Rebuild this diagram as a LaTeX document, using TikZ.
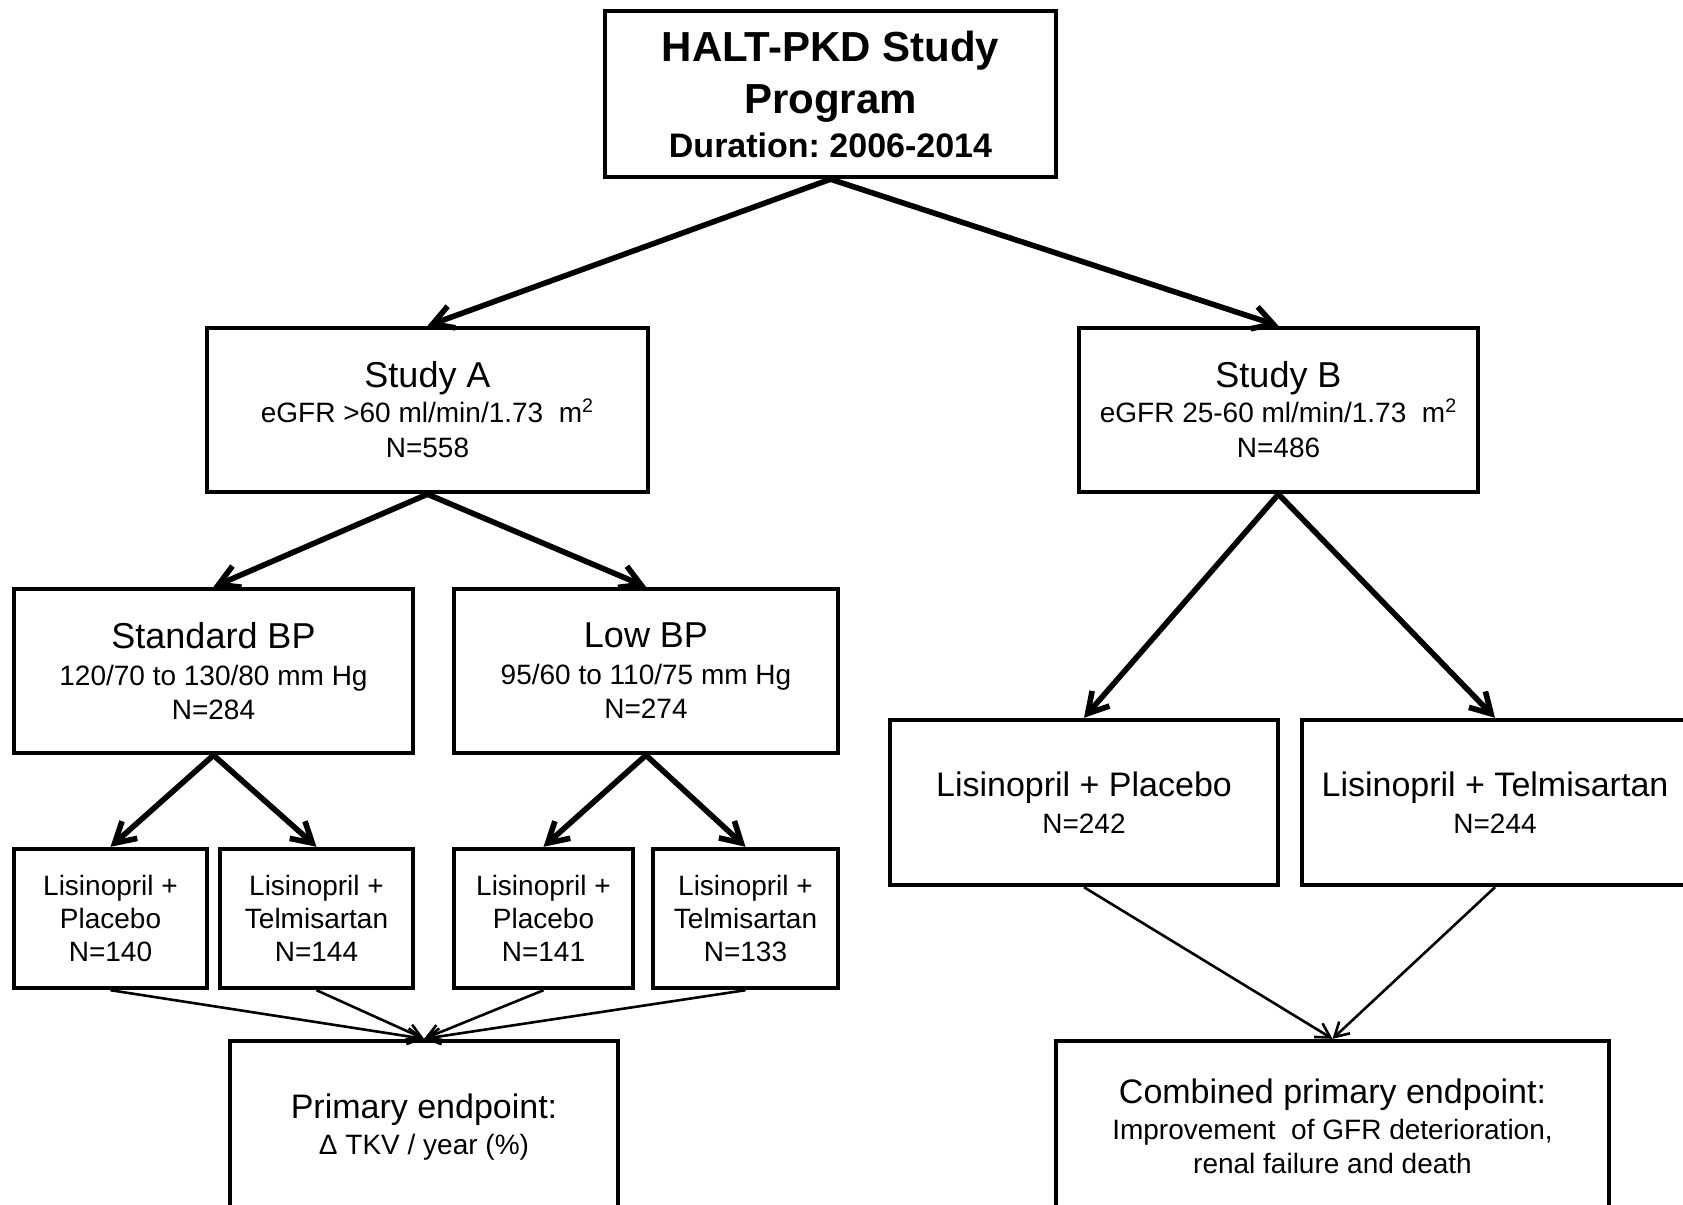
\documentclass[tikz,border=0pt]{standalone}
\usepackage{fontspec}
\setmainfont{Liberation Sans}
\usetikzlibrary{arrows.meta}
\frenchspacing

\begin{document}
\begin{tikzpicture}[x=0.5pt,y=-0.5pt,
    box/.style={draw=black,line width=2.2pt,align=center,inner sep=0pt},
    sz/.style 2 args={minimum width=#1,minimum height=#2},
    bigarrow/.style={line width=2.8pt,-{Straight Barb[length=10pt,width=11.5pt]}},
    smallarrow/.style={line width=1.3pt,-{Straight Barb[length=7pt,width=8pt]}}]
    \useasboundingbox (0,0) rectangle (1683,1205);
    \clip (0,0) rectangle (1683,1205);
    % top level
    \node [box,sz={225.5pt}{83pt},font=\bfseries\fontsize{21}{26}\selectfont] (prog) at (830.5,94)
        {HALT-PKD Study\\Program\\[-4pt]{\fontsize{17}{21}\selectfont Duration: 2006-2014}};
    % the two studies
    \node [box,sz={220.5pt}{82pt},font=\fontsize{14}{17.5}\selectfont] (studyA) at (427.5,410)
        {{\fontsize{18}{18}\selectfont Study A}\\eGFR >60 ml/min/1.73~~m\textsuperscript{2}\\N=558};
    \node [box,sz={199.5pt}{82pt},font=\fontsize{14}{17.5}\selectfont] (studyB) at (1278.5,410)
        {{\fontsize{18}{18}\selectfont Study B}\\eGFR 25-60 ml/min/1.73~~m\textsuperscript{2}\\N=486};
    % study A: blood pressure arms
    \node [box,sz={199.5pt}{82pt},font=\fontsize{14}{17}\selectfont] (stdbp) at (213.5,671)
        {{\fontsize{18}{18}\selectfont Standard BP}\\[1.5pt]120/70 to 130/80 mm Hg\\N=284};
    \node [box,sz={192pt}{82pt},font=\fontsize{14}{17}\selectfont] (lowbp) at (646,671)
        {{\fontsize{18}{18}\selectfont Low BP}\\[1.5pt]95/60 to 110/75 mm Hg\\N=274};
    % study A: drug arms
    \node [box,sz={96.5pt}{69.5pt},font=\fontsize{14}{16.5}\selectfont] (lpA1) at (110.5,918.5)
        {Lisinopril +\\Placebo\\N=140};
    \node [box,sz={96.5pt}{69.5pt},font=\fontsize{14}{16.5}\selectfont] (ltA1) at (316.5,918.5)
        {Lisinopril +\\Telmisartan\\N=144};
    \node [box,sz={89.5pt}{69.5pt},font=\fontsize{14}{16.5}\selectfont] (lpA2) at (543.5,918.5)
        {Lisinopril +\\Placebo\\N=141};
    \node [box,sz={92.5pt}{69.5pt},font=\fontsize{14}{16.5}\selectfont] (ltA2) at (745.5,918.5)
        {Lisinopril +\\Telmisartan\\N=133};
    % study B: drug arms
    \node [box,sz={194pt}{82.5pt},font=\fontsize{14}{18.5}\selectfont] (lpB) at (1084,802.5)
        {{\fontsize{17}{17}\selectfont Lisinopril + Placebo}\\N=242};
    \node [box,sz={193pt}{82.5pt},font=\fontsize{14}{18.5}\selectfont] (ltB) at (1495,802.5)
        {{\fontsize{17}{17}\selectfont Lisinopril + Telmisartan}\\N=244};
    % endpoints
    \node [box,sz={194pt}{86pt},font=\fontsize{14}{18}\selectfont] (endA) at (424,1127)
        {{\fontsize{17}{17}\selectfont Primary endpoint:}\\Δ TKV / year (\%)};
    \node [box,sz={276.5pt}{85pt},font=\fontsize{14}{17}\selectfont] (endB) at (1332.5,1126)
        {{\fontsize{17}{17}\selectfont Combined primary endpoint:}\\[1pt]Improvement~~of GFR deterioration,\\renal failure and death};
    % connectors
    \draw [bigarrow] (prog.south) -- (studyA.north);
    \draw [bigarrow] (prog.south) -- (studyB.north);
    \draw [bigarrow] (studyA.south) -- (stdbp.north);
    \draw [bigarrow] (studyA.south) -- (lowbp.north);
    \draw [bigarrow] (studyB.south) -- (lpB.north);
    \draw [bigarrow] (studyB.south) -- (ltB.north);
    \draw [bigarrow] (stdbp.south) -- (lpA1.north);
    \draw [bigarrow] (stdbp.south) -- (ltA1.north);
    \draw [bigarrow] (lowbp.south) -- (lpA2.north);
    \draw [bigarrow] (lowbp.south) -- (ltA2.north);
    \foreach \arm in {lpA1,ltA1,lpA2,ltA2}
        \draw [smallarrow] (\arm.south) -- (endA.north);
    \draw [smallarrow] (lpB.south) -- (endB.north);
    \draw [smallarrow] (ltB.south) -- (endB.north);
\end{tikzpicture}
\end{document}
